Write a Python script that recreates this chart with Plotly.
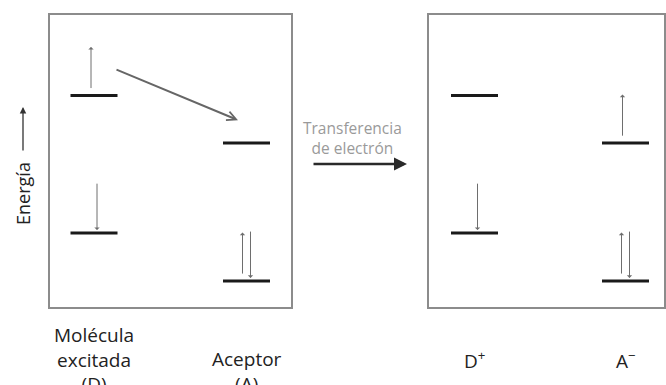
import plotly.graph_objects as go

# ---- data ----
species = ["D", "A", "D+", "A-"]
labels = ["Molécula<br>excitada<br>(D)", "Aceptor<br>(A)", "D<sup>+</sup>", "A<sup>−</sup>"]
lumo_energy = [7.23, 5.61, 7.23, 5.61]      # upper (empty / excited) level
homo_energy = [2.55, 0.92, 2.55, 0.92]      # lower level
lumo_spins = [["up"], [], [], ["up"]]
homo_spins = [["down"], ["up", "down"], ["down"], ["up", "down"]]
transfer_text = "Transferencia<br>de electrón"
axis_text = "Energía"

# ---- layout constants (pixel-like x units, energy y units) ----
x_center = [94, 246.5, 474.5, 625.5]
half_w = 23.5
boxes = [(49, 292), (428, 665)]
E_top, E_bot = 10.0, 0.0
y_range = [-2.619, 10.476]
spin_dx = {("up", 1): -3, ("down", 1): 3, ("up", 2): -4, ("down", 2): 4}
tail_off, head_off = 0.2, 1.65

FONT = "Open Sans"
fig = go.Figure()

# energy levels
for xc, eL, eH in zip(x_center, lumo_energy, homo_energy):
    for e in (eL, eH):
        fig.add_trace(go.Scatter(x=[xc - half_w, xc + half_w], y=[e, e], mode="lines",
                                 line=dict(color="#1a1a1a", width=3),
                                 hoverinfo="skip", showlegend=False))

annotations = []

def electron(xc, e, spin, n):
    dx = spin_dx[(spin, n)]
    if spin == "up":
        y_head, y_tail = e + head_off, e + tail_off
    else:
        y_head, y_tail = e + 0.1, e + head_off + 0.08
    annotations.append(dict(x=xc + dx, y=y_head, ax=xc + dx, ay=y_tail,
                            xref="x", yref="y", axref="x", ayref="y",
                            showarrow=True, arrowhead=1, arrowsize=0.9,
                            arrowwidth=1, arrowcolor="#6e6e6e", text="", standoff=0))

for xc, eL, eH, sL, sH in zip(x_center, lumo_energy, homo_energy, lumo_spins, homo_spins):
    for s in sL:
        electron(xc, eL, s, len(sL))
    for s in sH:
        electron(xc, eH, s, len(sH))

# diagonal arrow D* -> A
annotations.append(dict(x=238, y=6.39, ax=115, ay=8.13, xref="x", yref="y", axref="x", ayref="y",
                        showarrow=True, arrowhead=5, arrowsize=0.9, arrowwidth=2,
                        arrowcolor="#666666", text="", standoff=0))

# transfer arrow
annotations.append(dict(x=407, y=4.90, ax=312, ay=4.90, xref="x", yref="y", axref="x", ayref="y",
                        showarrow=True, arrowhead=2, arrowsize=1.0, arrowwidth=2.6,
                        arrowcolor="#2a2a2a", text="", standoff=0))
annotations.append(dict(x=352, y=5.78, xref="x", yref="y", text=transfer_text, showarrow=False,
                        font=dict(family=FONT, size=15.5, color="#9a9a9a"), align="center"))

# energy axis arrow + label
annotations.append(dict(x=23, y=6.84, ax=23, ay=5.31, xref="x", yref="y", axref="x", ayref="y",
                        showarrow=True, arrowhead=2, arrowsize=1.0, arrowwidth=1.3,
                        arrowcolor="#333333", text="", standoff=0))
annotations.append(dict(x=23, y=3.88, xref="x", yref="y", text=axis_text, showarrow=False,
                        textangle=-90, font=dict(family=FONT, size=18, color="#222222")))

# bottom labels
label_top = [-0.40, -1.24, -1.24, -1.24]
for xc, lab, yt in zip(x_center, labels, label_top):
    annotations.append(dict(x=xc, y=yt, xref="x", yref="y", text=lab, showarrow=False,
                            yanchor="top", align="center",
                            font=dict(family=FONT, size=19, color="#222222")))

shapes = [dict(type="rect", x0=x0, x1=x1, y0=E_bot, y1=E_top, xref="x", yref="y",
               line=dict(color="#8c8c8c", width=2), fillcolor="rgba(0,0,0,0)")
          for x0, x1 in boxes]

fig.update_layout(
    width=666, height=385, margin=dict(l=0, r=0, t=0, b=0),
    paper_bgcolor="white", plot_bgcolor="white",
    xaxis=dict(range=[0, 666], visible=False, fixedrange=True),
    yaxis=dict(range=y_range, visible=False, fixedrange=True),
    annotations=annotations, shapes=shapes, showlegend=False,
)

fig.write_html("out.html", config={"displayModeBar": False},
               post_script="document.body.style.margin='0';document.body.style.overflow='hidden';")
